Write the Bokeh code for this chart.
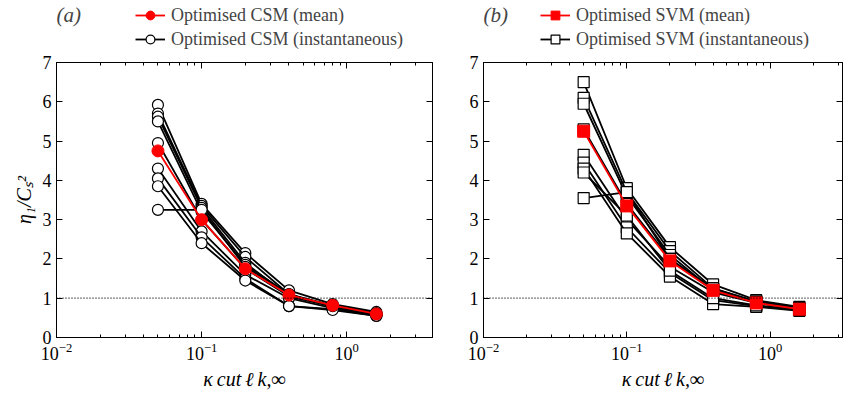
from bokeh.plotting import figure
from bokeh.models import Range1d, LogAxis, LinearAxis, Legend, LegendItem, Span, FixedTicker, LogTicker, Label
from bokeh.layouts import row, column
from bokeh.embed import file_html
from bokeh.resources import INLINE

kappa = [0.05, 0.1, 0.2, 0.4, 0.8, 1.6]
csm_mean = [4.75, 3.0, 1.75, 1.08, 0.82, 0.6]
csm_inst = [
    [5.92, 3.4, 2.15, 1.2, 0.85, 0.65],
    [5.7, 3.35, 2.05, 1.1, 0.82, 0.62],
    [5.62, 3.3, 1.9, 1.05, 0.8, 0.6],
    [5.5, 3.2, 1.85, 1.1, 0.78, 0.58],
    [4.95, 3.0, 1.75, 1.05, 0.8, 0.6],
    [4.3, 2.7, 1.6, 1.0, 0.75, 0.57],
    [4.05, 2.55, 1.5, 0.8, 0.72, 0.55],
    [3.85, 2.4, 1.45, 0.8, 0.7, 0.55],
    [3.25, 3.25, 1.8, 1.1, 0.8, 0.6],
]
svm_mean = [5.25, 3.35, 1.95, 1.2, 0.88, 0.72]
svm_inst = [
    [6.5, 3.8, 2.3, 1.35, 0.95, 0.78],
    [6.1, 3.7, 2.2, 1.25, 0.92, 0.75],
    [5.95, 3.6, 2.1, 1.2, 0.9, 0.74],
    [5.3, 3.4, 2.0, 1.2, 0.9, 0.72],
    [4.65, 3.0, 1.8, 1.15, 0.88, 0.72],
    [4.45, 2.8, 1.65, 0.95, 0.8, 0.7],
    [4.3, 2.65, 1.55, 0.85, 0.78, 0.68],
    [4.2, 3.1, 1.7, 1.0, 0.82, 0.7],
    [3.55, 3.7, 2.0, 1.25, 0.9, 0.74],
]
yticks = [0, 1, 2, 3, 4, 5, 6, 7]
FONT = "Liberation Serif"
NAN = float("nan")

def style_axis(ax, labels=True):
    ax.major_tick_in = 6
    ax.major_tick_out = 0
    ax.minor_tick_in = 3
    ax.minor_tick_out = 0
    ax.axis_line_color = "black"
    ax.major_tick_line_color = "black"
    ax.minor_tick_line_color = "black"
    ax.major_label_text_font = FONT
    ax.major_label_text_font_size = "18px"
    ax.major_label_text_color = "black"
    ax.axis_label_text_font = FONT
    ax.axis_label_text_font_size = "20px"
    ax.axis_label_text_font_style = "italic"
    ax.axis_label_text_color = "black"
    if not labels:
        ax.major_label_text_alpha = 0
        ax.major_label_standoff = 0
        ax.major_label_text_font_size = "2px"

def panel(mean, inst, marker, name, tag, xend, bl, br, width, ylabel, legx):
    p = figure(width=width, height=340, x_axis_type="log", output_backend="svg",
               toolbar_location=None, min_border_left=bl, min_border_right=br,
               min_border_top=10, min_border_bottom=55,
               x_range=Range1d(0.01, xend), y_range=Range1d(0, 7))
    p.grid.visible = False
    p.outline_line_color = "black"
    p.xaxis.ticker = LogTicker(mantissas=[1], num_minor_ticks=10)
    p.yaxis.ticker = FixedTicker(ticks=yticks, minor_ticks=[])
    p.xaxis.axis_label = "κ\u2009cut\u2009ℓ\u2009k,∞"
    if ylabel:
        p.yaxis.axis_label = "η₁/Cₛ²"
    style_axis(p.xaxis[0]); style_axis(p.yaxis[0])
    top = LogAxis(ticker=LogTicker(mantissas=[1], num_minor_ticks=10))
    rgt = LinearAxis(ticker=FixedTicker(ticks=yticks, minor_ticks=[]))
    style_axis(top, False); style_axis(rgt, False)
    p.add_layout(top, "above"); p.add_layout(rgt, "right")
    p.add_layout(Span(location=1, dimension="width", line_dash="1 2", line_color="black", line_width=1.2))
    for ys in inst:
        p.line(kappa, ys, line_color="black", line_width=1.8)
        p.scatter(kappa, ys, marker=marker, size=11, fill_color="white", line_color="black", line_width=1.2)
    p.line(kappa, mean, line_color="red", line_width=1.8)
    p.scatter(kappa, mean, marker=marker, size=12, fill_color="red", line_color="red")

    lf = figure(width=width, height=52, output_backend="svg", toolbar_location=None,
                min_border=0, x_range=Range1d(0, 1), y_range=Range1d(0, 1))
    lf.axis.visible = False
    lf.grid.visible = False
    lf.outline_line_color = None
    r1 = lf.line([NAN], [NAN], line_color="red", line_width=1.8)
    m1 = lf.scatter([NAN], [NAN], marker=marker, size=12, fill_color="red", line_color="red")
    r2 = lf.line([NAN], [NAN], line_color="black", line_width=1.8)
    m2 = lf.scatter([NAN], [NAN], marker=marker, size=11, fill_color="white", line_color="black", line_width=1.2)
    leg = Legend(items=[LegendItem(label="Optimised %s (mean)" % name, renderers=[r1, m1]),
                        LegendItem(label="Optimised %s (instantaneous)" % name, renderers=[r2, m2])],
                 location=(legx, 2), background_fill_alpha=0, border_line_alpha=0,
                 label_text_font=FONT, label_text_font_size="18px", spacing=2, padding=0,
                 glyph_width=30, label_height=22, glyph_height=22, margin=0, label_standoff=6)
    lf.add_layout(leg)
    lf.add_layout(Label(x=0, y=26, x_units="screen", y_units="screen", text=tag,
                        text_font=FONT, text_font_style="italic", text_font_size="21px"))
    return column(lf, p)

p1 = panel(csm_mean, csm_inst, "circle", "CSM", "(a)", 3.9, 56, 13, 445, True, 79)
p2 = panel(svm_mean, svm_inst, "square", "SVM", "(b)", 3.2, 38, 2, 399, False, 57)
layout = row(p1, p2)
open("out.html", "w").write(file_html(layout, INLINE))
